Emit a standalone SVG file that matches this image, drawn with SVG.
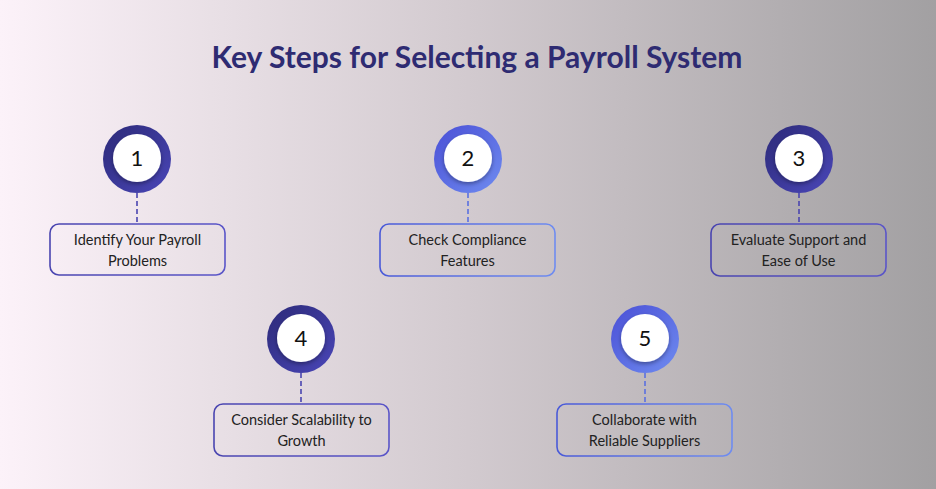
<svg xmlns="http://www.w3.org/2000/svg" width="936" height="489" viewBox="0 0 936 489">
<defs>
<linearGradient id="bg" x1="0" y1="0" x2="1" y2="0"><stop offset="0" stop-color="#fcf2f9"/><stop offset="0.5" stop-color="#d2cacf"/><stop offset="1" stop-color="#a2a0a2"/></linearGradient>
<linearGradient id="dark" x1="0" y1="0" x2="1" y2="1"><stop offset="0" stop-color="#2c2a78"/><stop offset="1" stop-color="#4a46b8"/></linearGradient>
<linearGradient id="light" x1="0" y1="0" x2="1" y2="1"><stop offset="0" stop-color="#4a4fd6"/><stop offset="1" stop-color="#6f8cf0"/></linearGradient>
<linearGradient id="sdark" x1="0" y1="0" x2="1" y2="0"><stop offset="0" stop-color="#4a45b0"/><stop offset="1" stop-color="#5a55c8"/></linearGradient>
<linearGradient id="slight" x1="0" y1="0" x2="1" y2="0"><stop offset="0" stop-color="#4a5ad8"/><stop offset="1" stop-color="#6f8cf0"/></linearGradient>
<filter id="sh" x="-30%" y="-30%" width="160%" height="160%"><feDropShadow dx="0" dy="2" stdDeviation="2" flood-color="#000" flood-opacity="0.35"/></filter>
</defs>
<style>
.t{font-family:Lato,"Liberation Sans",sans-serif;font-size:14.5px;fill:#222;text-anchor:middle}
.n{font-family:Lato,"Liberation Sans",sans-serif;font-size:22px;fill:#111;text-anchor:middle}
.box{fill:none;stroke-width:1.6}
.dash{stroke-width:1.6;stroke-dasharray:5 3}
</style>
<rect width="936" height="489" fill="url(#bg)"/>
<text x="477" y="68" font-family="Lato,'Liberation Sans',sans-serif" font-weight="bold" font-size="30" fill="#2e2b72" text-anchor="middle">Key Steps for Selecting a Payroll System</text>
<g id="connectors">
<line class="dash" x1="137" y1="193" x2="137" y2="224" stroke="#4a45b0"/>
<line class="dash" x1="468" y1="193" x2="468" y2="224" stroke="#5a70e0"/>
<line class="dash" x1="799" y1="193" x2="799" y2="224" stroke="#4a45b0"/>
<line class="dash" x1="301" y1="373" x2="301" y2="404" stroke="#4a45b0"/>
<line class="dash" x1="645" y1="373" x2="645" y2="404" stroke="#5a70e0"/>
</g>
<g id="step1"><circle cx="137" cy="159" r="34" fill="url(#dark)"/><circle cx="137" cy="158" r="24" fill="#fff" filter="url(#sh)"/><text class="n" x="137" y="166">1</text>
<rect class="box" x="50" y="224" width="175" height="51" rx="9" stroke="url(#sdark)"/><text class="t" x="137.5" y="245">Identify Your Payroll</text><text class="t" x="137.5" y="266">Problems</text></g>
<g id="step2"><circle cx="468" cy="159" r="34" fill="url(#light)"/><circle cx="468" cy="158" r="24" fill="#fff" filter="url(#sh)"/><text class="n" x="468" y="166">2</text>
<rect class="box" x="380" y="224" width="175" height="52" rx="9" stroke="url(#slight)"/><text class="t" x="467.5" y="245">Check Compliance</text><text class="t" x="467.5" y="266">Features</text></g>
<g id="step3"><circle cx="799" cy="159" r="34" fill="url(#dark)"/><circle cx="799" cy="158" r="24" fill="#fff" filter="url(#sh)"/><text class="n" x="799" y="166">3</text>
<rect class="box" x="711" y="224" width="175" height="52" rx="9" stroke="url(#sdark)"/><text class="t" x="798.5" y="245">Evaluate Support and</text><text class="t" x="798.5" y="266">Ease of Use</text></g>
<g id="step4"><circle cx="301" cy="339" r="34" fill="url(#dark)"/><circle cx="301" cy="338" r="24" fill="#fff" filter="url(#sh)"/><text class="n" x="301" y="346">4</text>
<rect class="box" x="214" y="404" width="175" height="52" rx="9" stroke="url(#sdark)"/><text class="t" x="301.5" y="425">Consider Scalability to</text><text class="t" x="301.5" y="446">Growth</text></g>
<g id="step5"><circle cx="645" cy="339" r="34" fill="url(#light)"/><circle cx="645" cy="338" r="24" fill="#fff" filter="url(#sh)"/><text class="n" x="645" y="346">5</text>
<rect class="box" x="557" y="404" width="175" height="52" rx="9" stroke="url(#slight)"/><text class="t" x="644.5" y="425">Collaborate with</text><text class="t" x="644.5" y="446">Reliable Suppliers</text></g>
</svg>
